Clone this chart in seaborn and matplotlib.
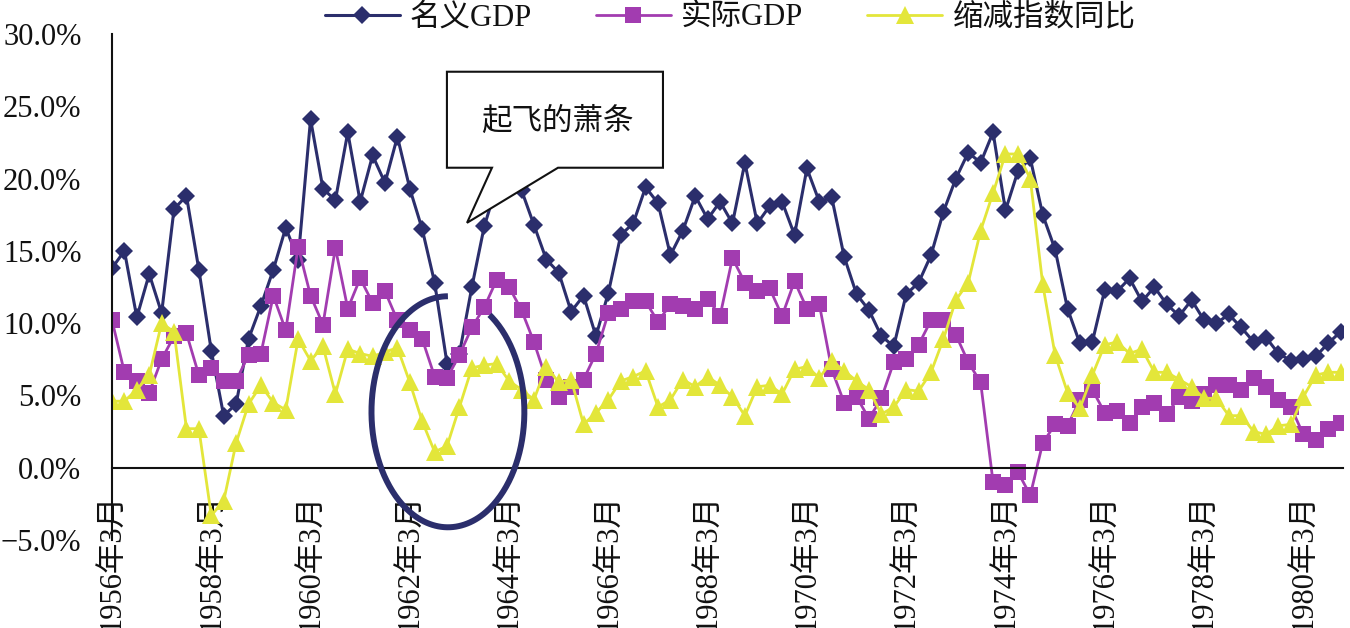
import numpy as np
import matplotlib
matplotlib.use('Agg')
import matplotlib.pyplot as plt
import seaborn as sns
from matplotlib.patches import Polygon
from matplotlib.ticker import FuncFormatter

# quarterly YoY growth, 1956Q1 .. 1980Q4 (%)
nominal = [13.8, 15.0, 10.4, 13.4, 10.7, 17.9, 18.8, 13.7, 8.1, 3.6,
           4.4, 8.9, 11.2, 13.7, 16.6, 14.4, 24.1, 19.3, 18.5, 23.2,
           18.4, 21.6, 19.7, 22.9, 19.3, 16.5, 12.8, 7.2, 7.9, 12.5,
           16.7, 19.5, 21.0, 19.2, 16.8, 14.4, 13.5, 10.8, 11.9, 9.1,
           12.1, 16.1, 16.9, 19.4, 18.3, 14.7, 16.4, 18.8, 17.2, 18.4,
           16.9, 21.1, 16.9, 18.1, 18.4, 16.1, 20.7, 18.4, 18.7, 14.6,
           12.0, 10.9, 9.1, 8.4, 12.0, 12.8, 14.7, 17.7, 20.0, 21.8,
           21.1, 23.2, 17.8, 20.5, 21.4, 17.5, 15.1, 11.0, 8.6, 8.7,
           12.3, 12.2, 13.1, 11.5, 12.5, 11.3, 10.5, 11.6, 10.2, 10.0,
           10.6, 9.7, 8.7, 9.0, 7.9, 7.4, 7.5, 7.7, 8.6, 9.4]
real = [10.2, 6.6, 6.0, 5.2, 7.5, 9.1, 9.3, 6.4, 6.9, 6.0,
        6.0, 7.8, 7.9, 11.9, 9.5, 15.3, 11.9, 9.9, 15.2, 11.0,
        13.1, 11.4, 12.2, 10.2, 9.5, 8.9, 6.3, 6.2, 7.8, 9.7,
        11.1, 13.0, 12.5, 10.9, 8.7, 6.1, 4.9, 5.6, 6.1, 7.9,
        10.7, 11.0, 11.5, 11.5, 10.1, 11.3, 11.2, 11.0, 11.7, 10.5,
        14.5, 12.8, 12.2, 12.4, 10.5, 12.9, 11.0, 11.3, 6.8, 4.5,
        4.9, 3.4, 4.8, 7.3, 7.5, 8.5, 10.2, 10.2, 9.2, 7.3,
        5.9, -1.0, -1.2, -0.3, -1.9, 1.7, 3.0, 2.9, 4.7, 5.4,
        3.8, 3.9, 3.1, 4.2, 4.5, 3.7, 4.9, 4.6, 5.1, 5.7,
        5.7, 5.4, 6.2, 5.6, 4.7, 4.2, 2.3, 1.9, 2.7, 3.1]
deflator = [4.6, 4.6, 5.4, 6.4, 10.0, 9.4, 2.7, 2.7, -3.3, -2.3,
            1.7, 4.4, 5.7, 4.5, 4.0, 8.9, 7.4, 8.4, 5.1, 8.2,
            7.9, 7.7, 8.0, 8.3, 5.9, 3.2, 1.1, 1.5, 4.2, 6.9,
            7.1, 7.2, 6.0, 5.4, 4.7, 7.0, 5.9, 6.1, 3.0, 3.8,
            4.7, 6.0, 6.3, 6.7, 4.2, 4.7, 6.1, 5.6, 6.3, 5.7,
            4.9, 3.6, 5.6, 5.7, 5.1, 6.8, 7.0, 6.2, 7.4, 6.7,
            6.0, 5.4, 3.7, 4.2, 5.4, 5.3, 6.6, 8.9, 11.6, 12.8,
            16.4, 19.0, 21.7, 21.7, 20.0, 12.7, 7.8, 5.2, 4.1, 6.4,
            8.5, 8.7, 7.9, 8.2, 6.6, 6.6, 6.1, 5.6, 4.8, 4.8,
            3.6, 3.6, 2.5, 2.3, 2.9, 3.0, 4.9, 6.4, 6.6, 6.6]
tick_labels = ['1956年3月', '1958年3月', '1960年3月', '1962年3月', '1964年3月',
               '1966年3月', '1968年3月', '1970年3月', '1972年3月', '1974年3月',
               '1976年3月', '1978年3月', '1980年3月']
series_names = ['名义GDP', '实际GDP', '缩减指数同比']
callout_text = '起飞的萧条'

quarters = np.arange(len(nominal))

sns.set_theme(style='white')
plt.rcParams['font.family'] = ['Liberation Serif', 'Noto Sans CJK SC']
plt.rcParams['axes.unicode_minus'] = True

fig = plt.figure(figsize=(13.5, 6.28), dpi=100)
ax = fig.add_axes([112 / 1350, 1 - 540 / 628, 1231 / 1350, 506 / 628])

navy = '#2b2e6c'
purple = '#a23cb0'
yellow = '#e3e63a'

sns.lineplot(x=quarters, y=nominal, ax=ax, color=navy, linewidth=2.2, marker='D',
             markersize=9.5, markeredgewidth=0, label=series_names[0])
sns.lineplot(x=quarters, y=real, ax=ax, color=purple, linewidth=2.0, marker='s',
             markersize=11, markeredgewidth=0, label=series_names[1])
sns.lineplot(x=quarters, y=deflator, ax=ax, color=yellow, linewidth=2.0, marker='^',
             markersize=12.5, markeredgewidth=0, label=series_names[2])

ax.set_xlim(0, 99.2)
ax.set_ylim(-5, 30)
ax.set_yticks(np.arange(-5, 31, 5))
ax.yaxis.set_major_formatter(FuncFormatter(lambda v, p: f'{v:.1f}%'.replace('-', '\u2212')))
ax.set_xticks(np.arange(0, 97, 8))
ax.set_xticklabels(tick_labels)
ax.set_xlabel('')
ax.set_ylabel('')

for s in ['top', 'right']:
    ax.spines[s].set_visible(False)
ax.spines['bottom'].set_position(('data', 0))
for s in ['left', 'bottom']:
    ax.spines[s].set_color('#111111')
    ax.spines[s].set_linewidth(1.5)
ax.tick_params(axis='both', direction='in', length=8.5, width=1.4, color='#111111',
               labelsize=22, labelcolor='#111111')
ax.tick_params(axis='y', pad=22)
ax.tick_params(axis='x', pad=19, labelrotation=90)

# circled trough
t = np.radians(np.linspace(90, 417, 300))
ax.plot(27.07 + 6.16 * np.cos(t), 3.87 + 7.99 * np.sin(t), color=navy, lw=4.3,
        zorder=9, clip_on=False, solid_capstyle='butt')

# speech-bubble callout
bubble = Polygon([(26.99, 27.39), (44.40, 27.39), (44.40, 20.75), (35.94, 20.75),
                  (28.61, 16.94), (30.62, 20.75), (26.99, 20.75)],
                 closed=True, facecolor='white', edgecolor='#111111', lw=1.5, zorder=10)
ax.add_patch(bubble)
ax.text(35.86, 23.86, callout_text, fontsize=22, ha='center', va='center',
        color='#111111', zorder=11)

handles, labels = ax.get_legend_handles_labels()
if ax.get_legend() is not None:
    ax.get_legend().remove()
fig.legend(handles, labels, loc='center', bbox_to_anchor=(730 / 1350, 1 - 18 / 628),
           ncol=3, frameon=False, fontsize=22, handlelength=2.45, handletextpad=0.33,
           columnspacing=2.1, borderpad=0, labelcolor='#111111')

fig.savefig('out.png', dpi=100)
